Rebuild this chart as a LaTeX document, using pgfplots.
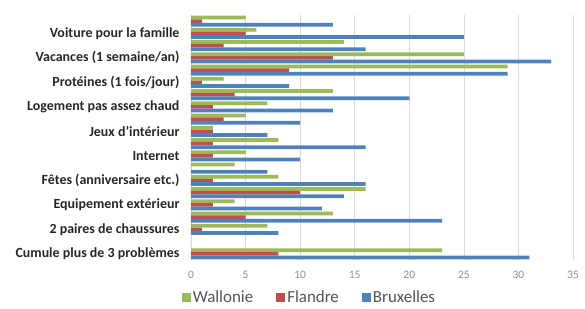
\documentclass[border=0pt]{standalone}
\usepackage{pgfplots}
\pgfplotsset{compat=1.18}
\usepackage{fontspec}
\setmainfont{Carlito}
\definecolor{wal}{HTML}{9BBB59}
\definecolor{fla}{HTML}{C0504D}
\definecolor{bru}{HTML}{4F81BD}
\definecolor{gridc}{HTML}{D9D9D9}
\definecolor{tickc}{HTML}{8C8C8C}
\definecolor{labc}{HTML}{262626}
\begin{document}
\begin{tikzpicture}
\begin{axis}[
  at={(0,0)}, anchor=south west,
  scale only axis, width=382bp, height=245bp,
  xmin=0, xmax=35, ymin=-0.5, ymax=19.5,
  xbar, bar width=0.3,
  axis line style={draw=none},
  xtick={0,5,...,35}, major tick length=0pt,
  xmajorgrids, grid style={gridc, line width=0.6pt},
  ytick={0,2,...,18},
  yticklabels={Cumule plus de 3 problèmes, 2 paires de chaussures, Equipement extérieur, Fêtes (anniversaire etc.), Internet, Jeux d'intérieur, Logement pas assez chaud, Protéines (1 fois/jour), Vacances (1 semaine/an), Voiture pour la famille},
  yticklabel style={font=\fontsize{14}{16}\selectfont\bfseries, text=labc, xshift=-8bp},
  xticklabel style={font=\fontsize{11.5}{13}\selectfont, text=tickc, yshift=-8bp},
  /pgf/number format/assume math mode=true,
  legend style={at={(0.31,-0.152)}, anchor=center, draw=none, fill=none, legend columns=3, font=\fontsize{17}{19}\selectfont, text=tickc!60!black, inner sep=0pt, /tikz/every even column/.append style={column sep=21bp}},
  legend image code/.code={\fill[#1] (0bp,-4.5bp) rectangle (9bp,4.5bp);},
]
\addplot[fill=wal, draw=none, bar shift=0.3] coordinates {
(23,0) (0,1) (7,2) (13,3) (4,4) (16,5) (8,6) (4,7) (5,8) (8,9) (2,10) (5,11) (7,12) (13,13) (3,14) (29,15) (25,16) (14,17) (6,18) (5,19)};
\addplot[fill=fla, draw=none, bar shift=0] coordinates {
(8,0) (0,1) (1,2) (5,3) (2,4) (10,5) (2,6) (0,7) (2,8) (2,9) (2,10) (3,11) (2,12) (4,13) (1,14) (9,15) (13,16) (3,17) (5,18) (1,19)};
\addplot[fill=bru, draw=none, bar shift=-0.3] coordinates {
(31,0) (0,1) (8,2) (23,3) (12,4) (14,5) (16,6) (7,7) (10,8) (16,9) (7,10) (10,11) (13,12) (20,13) (9,14) (29,15) (33,16) (16,17) (25,18) (13,19)};
\legend{Wallonie, Flandre, Bruxelles}
\end{axis}
\pgfresetboundingbox
\path[use as bounding box] (-191bp,-49bp) rectangle (394bp,260bp);
\end{tikzpicture}
\end{document}
